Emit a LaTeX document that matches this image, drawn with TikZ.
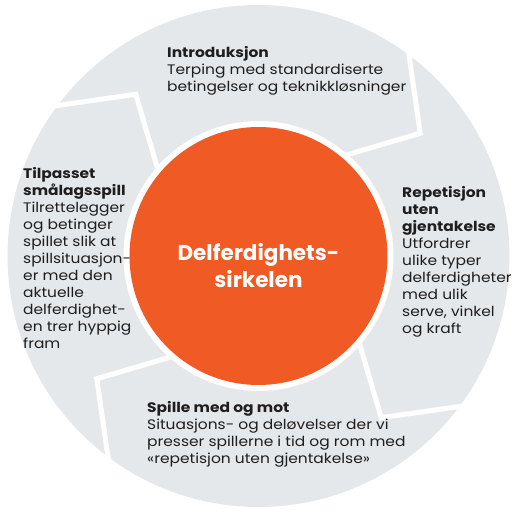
\documentclass[tikz,border=0pt]{standalone}
\usepackage{fontspec}
\setmainfont{Poppins}[FakeStretch=1.12]
\newfontfamily\corefont{Poppins}
\definecolor{ringgray}{HTML}{E5E8EB}
\definecolor{coreorange}{HTML}{F05A24}
\definecolor{txt}{HTML}{1E1E1E}
\begin{document}
\begin{tikzpicture}[x=1pt,y=1pt,
  sep/.style={white,line width=5pt,line join=miter},
  lbl/.style={anchor=base west,inner sep=0pt,align=left,text=txt,
    font=\fontsize{13.8}{17}\selectfont},
  core/.style={align=center,text=white,inner sep=0pt,
    font=\corefont\fontsize{21.5}{27}\selectfont\bfseries}]
\useasboundingbox (-258.5,-255) rectangle (257.5,256);
\fill[ringgray] (0,0) circle (251);
\foreach \k in {0,1,2,3}{
  \draw[sep] ({55.5-90*\k}:262) -- ({37.2-90*\k}:203) -- ({50.7-90*\k}:128);
}
\fill[white] (0,0) circle (135);
\fill[coreorange] (0,0) circle (129);
\node[core] (centre) at (0,-9) {Delferdighets-\\sirkelen};
\node[lbl] (intro) at (167-258.5,256-92)
  {\textbf{Introduksjon}\\Terping med standardiserte\\betingelser og teknikkløsninger};
\node[lbl] (repet) at (402-258.5,256-333)
  {\textbf{Repetisjon}\\\textbf{uten}\\\textbf{gjentakelse}\\Utfordrer\\ulike typer\\delferdigheter\\med ulik\\serve, vinkel\\og kraft};
\node[lbl] (spille) at (147-258.5,256-463)
  {\textbf{Spille med og mot}\\Situasjons- og deløvelser der vi\\presser spillerne i tid og rom med\\«repetisjon uten gjentakelse»};
\node[lbl] (tilpas) at (23-258.5,256-348)
  {\textbf{Tilpasset}\\\textbf{smålagsspill}\\Tilrettelegger\\og betinger\\spillet slik at\\spillsituasjon-\\er med den\\aktuelle\\delferdighet-\\en trer hyppig\\fram};
\end{tikzpicture}
\end{document}
